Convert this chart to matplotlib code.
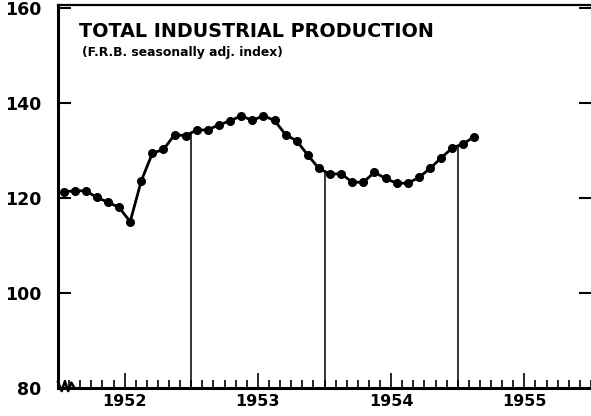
import numpy as np
import matplotlib.pyplot as plt

# F.R.B. index, monthly, Jan 1952 - Feb 1955
values = [121.3, 121.5, 121.5, 120.1, 119.1, 118.0, 115.0, 123.6, 129.4, 130.2, 133.3, 133.1,
          134.3, 134.3, 135.4, 136.2, 137.3, 136.3, 137.3, 136.3, 133.3, 132.0, 129.0, 126.2,
          125.0, 125.1, 123.3, 123.3, 125.4, 124.1, 123.1, 123.1, 124.3, 126.2, 128.4, 130.5,
          131.4, 132.9]
years = [1952, 1953, 1954, 1955]
yticks = [80, 100, 120, 140, 160]

t = 1952 + (np.arange(len(values)) + 0.5) / 12

fig = plt.figure(figsize=(5.91, 4.16), dpi=100)
ax = fig.add_axes([58 / 591, 28 / 416, 1 - 58 / 591, 383 / 416])

ax.plot(t, values, color='black', lw=2, marker='o', ms=5.5, zorder=3)

# year divider lines up to the curve
for yr in years[1:]:
    ax.vlines(yr, 80, np.interp(yr, t, values), color='black', lw=1.1)

ax.set_xlim(1952, 1956)
ax.set_ylim(80, 160.6)

ax.spines['right'].set_visible(False)
ax.spines['left'].set_linewidth(2.2)
ax.spines['bottom'].set_linewidth(2.2)
ax.spines['top'].set_linewidth(1.6)

ax.set_yticks(yticks)
ax.set_yticklabels([str(v) for v in yticks], fontsize=12.5, fontweight='bold')
ax.tick_params(axis='y', direction='in', length=9, width=1.5, pad=12, right=True)

months = 1952 + np.arange(0, 49) / 12
ax.set_xticks(months, minor=True)
ax.set_xticks([y + 0.5 for y in years])
ax.set_xticklabels([str(y) for y in years], fontsize=11.5, fontweight='bold')
ax.tick_params(axis='x', which='minor', direction='in', length=6, width=1.2)
ax.tick_params(axis='x', which='major', direction='in', length=11, width=1.2, pad=4)

# axis break mark
zx = [0.0, 0.007, 0.013, 0.019, 0.025, 0.031]
zy = [0.016, -0.008, 0.018, -0.008, 0.014, 0.0]
ax.plot(zx, zy, color='black', lw=1.8, transform=ax.transAxes, clip_on=False)

ax.text(0.04, 0.932, 'TOTAL INDUSTRIAL PRODUCTION', transform=ax.transAxes,
        fontsize=13.8, fontweight='bold', va='center')
ax.text(0.045, 0.875, '(F.R.B. seasonally adj. index)', transform=ax.transAxes,
        fontsize=8.9, fontweight='bold', va='center')

fig.savefig('out.png', dpi=100)
